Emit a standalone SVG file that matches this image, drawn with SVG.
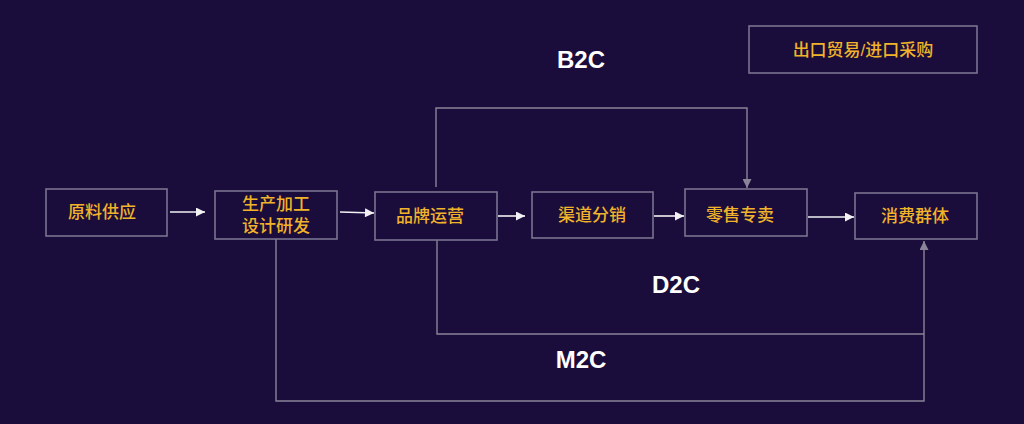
<svg xmlns="http://www.w3.org/2000/svg" width="1024" height="424" viewBox="0 0 1024 424">
<defs>
<style>
.box{fill:#1b0d3b;stroke:#7a7390;stroke-width:1.6}
.t{font-family:"Liberation Sans","Noto Sans CJK SC",sans-serif;font-size:17px;font-weight:500;fill:#f0b32a;text-anchor:middle;dominant-baseline:central}
.lbl{font-family:"Liberation Sans",Arial,sans-serif;font-size:24px;font-weight:bold;fill:#ffffff;text-anchor:middle;dominant-baseline:central}
.w{stroke:#f2f2f5;stroke-width:1.6;fill:none}
.g{stroke:#8a8498;stroke-width:1.4;fill:none}
</style>
<marker id="aw" viewBox="0 0 10 10" refX="10" refY="5" markerWidth="10" markerHeight="9" markerUnits="userSpaceOnUse" orient="auto"><path d="M0,0 L10,5 L0,10 z" fill="#f2f2f5"/></marker>
<marker id="ag" viewBox="0 0 10 10" refX="10" refY="5" markerWidth="9" markerHeight="9" markerUnits="userSpaceOnUse" orient="auto"><path d="M0,0 L10,5 L0,10 z" fill="#8a8498"/></marker>
</defs>
<rect width="1024" height="424" fill="#1b0d3b"/>
<g id="connectors">
<line class="w" x1="170" y1="212" x2="205" y2="212" marker-end="url(#aw)"/>
<line class="w" x1="340" y1="212" x2="374" y2="213" marker-end="url(#aw)"/>
<line class="w" x1="498" y1="216" x2="525" y2="216" marker-end="url(#aw)"/>
<line class="w" x1="654" y1="216" x2="684" y2="216" marker-end="url(#aw)"/>
<line class="w" x1="808" y1="217" x2="854" y2="217" marker-end="url(#aw)"/>
<polyline class="g" points="436,187 436,108 747,108 747,188" marker-end="url(#ag)"/>
<polyline class="g" points="437,240 437,334 924,334"/>
<polyline class="g" points="276,239 276,401 924,401 924,241" marker-end="url(#ag)"/>
</g>
<g id="n-export"><rect class="box" x="749" y="26" width="228" height="47"/><text class="t" x="863" y="50">出口贸易/进口采购</text></g>
<g id="n-raw"><rect class="box" x="46" y="189" width="121" height="47"/><text class="t" x="102" y="212">原料供应</text></g>
<g id="n-prod"><rect class="box" x="215" y="191" width="122" height="48"/><text class="t" x="276" y="204">生产加工</text><text class="t" x="276" y="226">设计研发</text></g>
<g id="n-brand"><rect class="box" x="375" y="192" width="122" height="48"/><text class="t" x="430" y="216">品牌运营</text></g>
<g id="n-channel"><rect class="box" x="532" y="192" width="121" height="46"/><text class="t" x="592" y="215">渠道分销</text></g>
<g id="n-retail"><rect class="box" x="685" y="189" width="122" height="47"/><text class="t" x="740" y="215">零售专卖</text></g>
<g id="n-consumer"><rect class="box" x="855" y="193" width="122" height="46"/><text class="t" x="915" y="216">消费群体</text></g>
<g id="labels">
<text class="lbl" x="581" y="59">B2C</text>
<text class="lbl" x="676" y="284">D2C</text>
<text class="lbl" x="581" y="359">M2C</text>
</g>
</svg>
